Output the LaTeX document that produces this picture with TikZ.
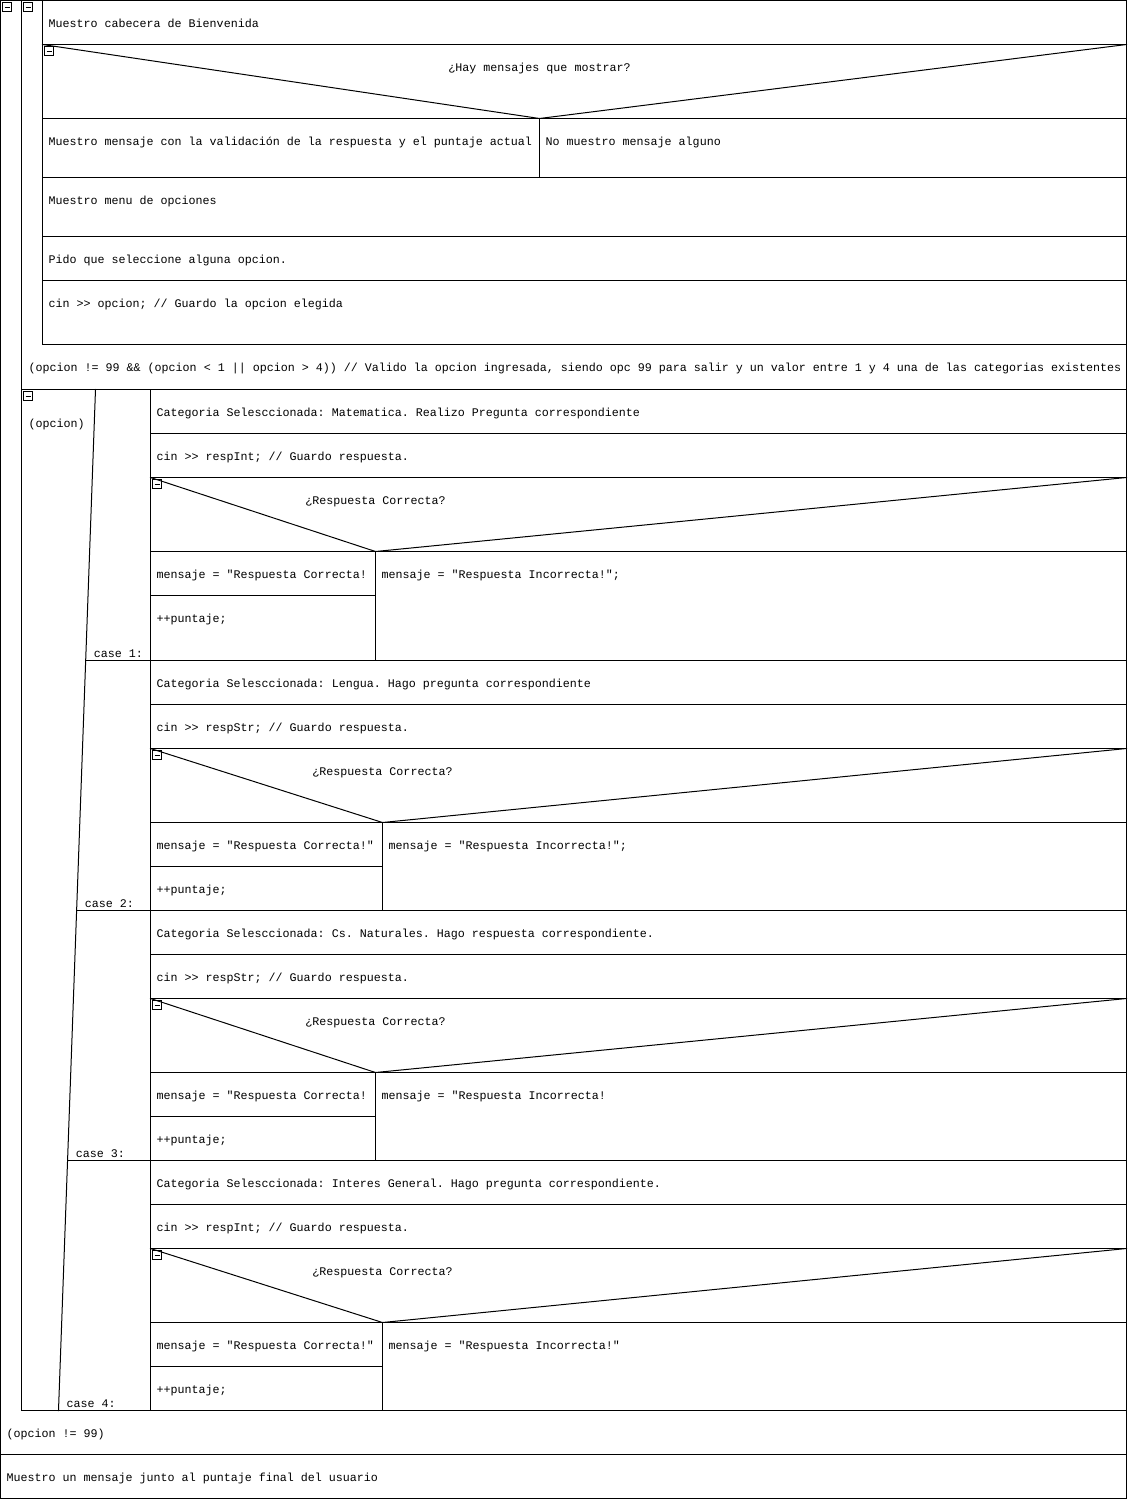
\documentclass[tikz,border=0pt]{standalone}
\usepackage{fontspec}
\setmonofont{Liberation Mono}
\begin{document}
\begin{tikzpicture}[x=1pt,y=-1pt,
  txt/.style={anchor=base west, inner sep=0pt, font=\ttfamily\fontsize{11.67}{14}\selectfont},
  ctxt/.style={txt, anchor=base},
  ln/.style={line width=1pt, line cap=rect},
  thin/.style={line width=0.6pt}]
\useasboundingbox (0,0) rectangle (1127,1499);
\newcommand\tx[4]{\node[txt] (#1) at (#2+6,#3+27) {#4};}
\newcommand\cbox[2]{\draw[thin] (#1,#2) rectangle ++(9,9); \draw[thin] (#1+2,#2+4.5) -- ++(5,0);}
\begin{scope}[shift={(0.5,0.5)}]
% outer frame
\draw[ln] (0,0) rectangle (1126,1498);
\draw[ln] (21,0) -- (21,1410) -- (1126,1410);
\draw[ln] (0,1454) -- (1126,1454);
% inner do-while
\draw[ln] (42,0) -- (42,344) -- (1126,344);
\draw[ln] (21,389) -- (1126,389);
\draw[ln] (42,44) -- (1126,44);
\draw[ln] (42,44) -- (539,118) -- (1126,44);
\draw[ln] (42,118) -- (1126,118);
\draw[ln] (539,118) -- (539,177);
\draw[ln] (42,177) -- (1126,177);
\draw[ln] (42,236) -- (1126,236);
\draw[ln] (42,280) -- (1126,280);
\cbox{2}{2}
\cbox{23}{2}
\cbox{44}{46}
\tx{t1}{42}{0}{Muestro cabecera de Bienvenida}
\node[ctxt] (d0) at (539,71) {¿Hay mensajes que mostrar?};
\tx{t2}{42}{118}{Muestro mensaje con la validación de la respuesta y el puntaje actual}
\tx{t3}{539}{118}{No muestro mensaje alguno}
\tx{t4}{42}{177}{Muestro menu de opciones}
\tx{t5}{42}{236}{Pido que seleccione alguna opcion.}
\tx{t6}{42}{280}{cin >> opcion; // Guardo la opcion elegida}
\tx{c1}{22}{344}{(opcion != 99 \&\& (opcion < 1 || opcion > 4)) // Valido la opcion ingresada, siendo opc 99 para salir y un valor entre 1 y 4 una de las categorias existentes}
% switch
\cbox{23}{391}
\node[txt] (sw) at (28,426.5) {(opcion)};
\draw[ln] (95,389) -- (58,1410);
\draw[ln] (150,389) -- (150,1410);
\draw[ln] (85.2,660) -- (1126,660);
\draw[ln] (76.1,910) -- (1126,910);
\draw[ln] (67.1,1160) -- (1126,1160);
% cases: top, bottom, apex
\foreach \T/\B/\A/\n/\sx in {389/660/375/1/85.2, 660/910/382/2/76.1, 910/1160/375/3/67.1, 1160/1410/382/4/58}{
  \draw[ln] (150,\T+44) -- (1126,\T+44);
  \draw[ln] (150,\T+88) -- (1126,\T+88);
  \draw[ln] (150,\T+88) -- (\A,\T+162) -- (1126,\T+88);
  \draw[ln] (150,\T+162) -- (1126,\T+162);
  \draw[ln] (\A,\T+162) -- (\A,\B);
  \draw[ln] (150,\T+206) -- (\A,\T+206);
  \cbox{152}{\T+90}
  \node[ctxt] (q\n) at (\A,\T+115) {¿Respuesta Correcta?};
  \node[txt] (p\n) at (156,\T+233) {++puntaje;};
  \node[txt] (k\n) at (\sx+8,\B-3) {case \n:};
}
\tx{a1}{150}{389}{Categoria Selesccionada: Matematica. Realizo Pregunta correspondiente}
\tx{b1}{150}{433}{cin >> respInt; // Guardo respuesta.}
\tx{m1}{150}{551}{mensaje = "Respuesta Correcta!}
\tx{n1}{375}{551}{mensaje = "Respuesta Incorrecta!";}
\tx{a2}{150}{660}{Categoria Selesccionada: Lengua. Hago pregunta correspondiente}
\tx{b2}{150}{704}{cin >> respStr; // Guardo respuesta.}
\tx{m2}{150}{822}{mensaje = "Respuesta Correcta!"}
\tx{n2}{382}{822}{mensaje = "Respuesta Incorrecta!";}
\tx{a3}{150}{910}{Categoria Selesccionada: Cs. Naturales. Hago respuesta correspondiente.}
\tx{b3}{150}{954}{cin >> respStr; // Guardo respuesta.}
\tx{m3}{150}{1072}{mensaje = "Respuesta Correcta!}
\tx{n3}{375}{1072}{mensaje = "Respuesta Incorrecta!}
\tx{a4}{150}{1160}{Categoria Selesccionada: Interes General. Hago pregunta correspondiente.}
\tx{b4}{150}{1204}{cin >> respInt; // Guardo respuesta.}
\tx{m4}{150}{1322}{mensaje = "Respuesta Correcta!"}
\tx{n4}{382}{1322}{mensaje = "Respuesta Incorrecta!"}
% closing
\tx{w1}{0}{1410}{(opcion != 99)}
\tx{f1}{0}{1454}{Muestro un mensaje junto al puntaje final del usuario}
\end{scope}
\end{tikzpicture}
\end{document}
